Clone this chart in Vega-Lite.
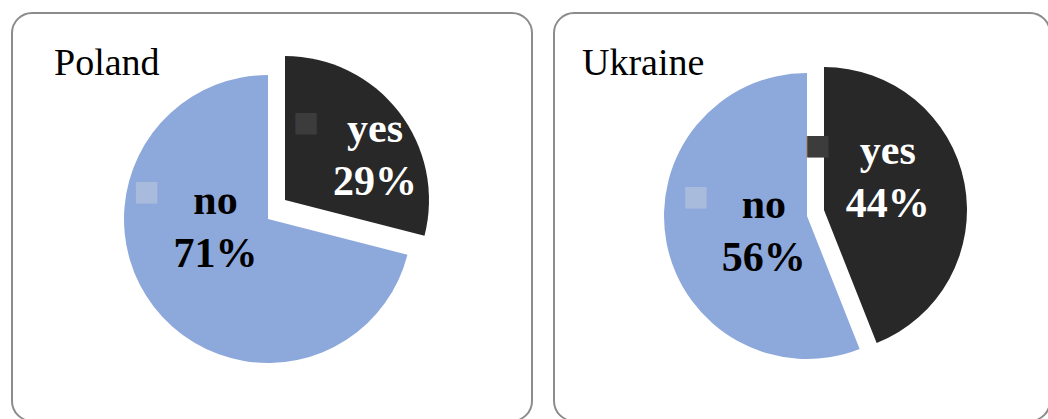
{
  "$schema": "https://vega.github.io/schema/vega-lite/v6.json",
  "padding": {"left": 11, "top": 12, "right": 0, "bottom": 0},
  "background": "white",
  "spacing": 20,
  "config": {
    "view": {"stroke": "#8c8c8c", "strokeWidth": 2, "cornerRadius": 20},
    "title": {"font": "Liberation Serif", "fontSize": 38, "fontWeight": "normal", "color": "#000000", "anchor": "start", "frame": "group", "baseline": "alphabetic", "offset": -70}
  },
  "data": {
    "values": [
      {"country": "Poland", "answer": "yes", "value": 29},
      {"country": "Poland", "answer": "no", "value": 71},
      {"country": "Ukraine", "answer": "yes", "value": 44},
      {"country": "Ukraine", "answer": "no", "value": 56}
    ]
  },
  "transform": [{"calculate": "datum.answer + '\\n' + datum.value + '%'", "as": "label"}],
  "hconcat": [
    {
      "width": 520,
      "height": 408,
      "view": {"stroke": "#8c8c8c", "strokeWidth": 2, "cornerRadius": 20, "fill": "white"},
      "title": {"text": "Poland", "dx": 42},
      "transform": [{"filter": "datum.country === 'Poland'"}],
      "encoding": {
        "theta": {"field": "value", "type": "quantitative", "stack": true, "scale": {"domain": [0, 100]}},
        "order": {"field": "answer", "sort": "descending"},
        "detail": {"field": "answer", "type": "nominal"}
      },
      "layer": [
        {"mark": {"type": "arc", "radius": 144, "xOffset": -4, "yOffset": 2},
         "encoding": {"color": {"field": "answer", "type": "nominal", "scale": {"domain": ["no", "yes"], "range": ["#8DA8DA", "#282828"]}, "legend": null},
                      "opacity": {"condition": {"test": "datum.answer === 'no'", "value": 1}, "value": 0}}},
        {"mark": {"type": "arc", "radius": 144, "xOffset": 13, "yOffset": -17},
         "encoding": {"color": {"field": "answer", "type": "nominal", "scale": {"domain": ["no", "yes"], "range": ["#8DA8DA", "#282828"]}, "legend": null},
                      "opacity": {"condition": {"test": "datum.answer === 'yes'", "value": 1}, "value": 0}}},
        {"mark": {"type": "text", "radius": 50, "dx": -17, "dy": -47, "font": "Liberation Serif", "fontSize": 42, "fontWeight": "bold", "lineBreak": "\n", "lineHeight": 53, "baseline": "middle", "align": "center", "color": "#000000"},
         "encoding": {"text": {"field": "label"}, "opacity": {"condition": {"test": "datum.answer === 'no'", "value": 1}, "value": 0}}},
        {"mark": {"type": "text", "radius": 95, "dx": 28, "dy": -30, "font": "Liberation Serif", "fontSize": 42, "fontWeight": "bold", "lineBreak": "\n", "lineHeight": 53, "baseline": "middle", "align": "center", "color": "#ffffff"},
         "encoding": {"text": {"field": "label"}, "opacity": {"condition": {"test": "datum.answer === 'yes'", "value": 1}, "value": 0}}},
        {"mark": {"type": "text", "radius": 50, "dx": -86, "dy": -56, "font": "DejaVu Sans", "fontSize": 28, "baseline": "middle", "align": "center", "color": "#A9BBDD"},
         "encoding": {"text": {"value": "■"}, "opacity": {"condition": {"test": "datum.answer === 'no'", "value": 1}, "value": 0}}},
        {"mark": {"type": "text", "radius": 95, "dx": -41, "dy": -36, "font": "DejaVu Sans", "fontSize": 28, "baseline": "middle", "align": "center", "color": "#3c3c3c"},
         "encoding": {"text": {"value": "■"}, "opacity": {"condition": {"test": "datum.answer === 'yes'", "value": 1}, "value": 0}}}
      ]
    },
    {
      "width": 496,
      "height": 408,
      "view": {"stroke": "#8c8c8c", "strokeWidth": 2, "cornerRadius": 20, "fill": "white"},
      "title": {"text": "Ukraine", "dx": 28},
      "transform": [{"filter": "datum.country === 'Ukraine'"}],
      "encoding": {
        "theta": {"field": "value", "type": "quantitative", "stack": true, "scale": {"domain": [0, 100]}},
        "order": {"field": "answer", "sort": "descending"},
        "detail": {"field": "answer", "type": "nominal"}
      },
      "layer": [
        {"mark": {"type": "arc", "radius": 143, "xOffset": 5, "yOffset": -1},
         "encoding": {"color": {"field": "answer", "type": "nominal", "scale": {"domain": ["no", "yes"], "range": ["#8DA8DA", "#282828"]}, "legend": null},
                      "opacity": {"condition": {"test": "datum.answer === 'no'", "value": 1}, "value": 0}}},
        {"mark": {"type": "arc", "radius": 143, "xOffset": 22, "yOffset": -7},
         "encoding": {"color": {"field": "answer", "type": "nominal", "scale": {"domain": ["no", "yes"], "range": ["#8DA8DA", "#282828"]}, "legend": null},
                      "opacity": {"condition": {"test": "datum.answer === 'yes'", "value": 1}, "value": 0}}},
        {"mark": {"type": "text", "radius": 45, "dx": 6, "dy": -20, "font": "Liberation Serif", "fontSize": 42, "fontWeight": "bold", "lineBreak": "\n", "lineHeight": 53, "baseline": "middle", "align": "center", "color": "#000000"},
         "encoding": {"text": {"field": "label"}, "opacity": {"condition": {"test": "datum.answer === 'no'", "value": 1}, "value": 0}}},
        {"mark": {"type": "text", "radius": 70, "dx": 17, "dy": -53, "font": "Liberation Serif", "fontSize": 42, "fontWeight": "bold", "lineBreak": "\n", "lineHeight": 53, "baseline": "middle", "align": "center", "color": "#ffffff"},
         "encoding": {"text": {"field": "label"}, "opacity": {"condition": {"test": "datum.answer === 'yes'", "value": 1}, "value": 0}}},
        {"mark": {"type": "text", "radius": 45, "dx": -62, "dy": -28, "font": "DejaVu Sans", "fontSize": 28, "baseline": "middle", "align": "center", "color": "#A9BBDD"},
         "encoding": {"text": {"value": "■"}, "opacity": {"condition": {"test": "datum.answer === 'no'", "value": 1}, "value": 0}}},
        {"mark": {"type": "text", "radius": 70, "dx": -53, "dy": -58, "font": "DejaVu Sans", "fontSize": 28, "baseline": "middle", "align": "center", "color": "#3c3c3c"},
         "encoding": {"text": {"value": "■"}, "opacity": {"condition": {"test": "datum.answer === 'yes'", "value": 1}, "value": 0}}}
      ]
    }
  ]
}
